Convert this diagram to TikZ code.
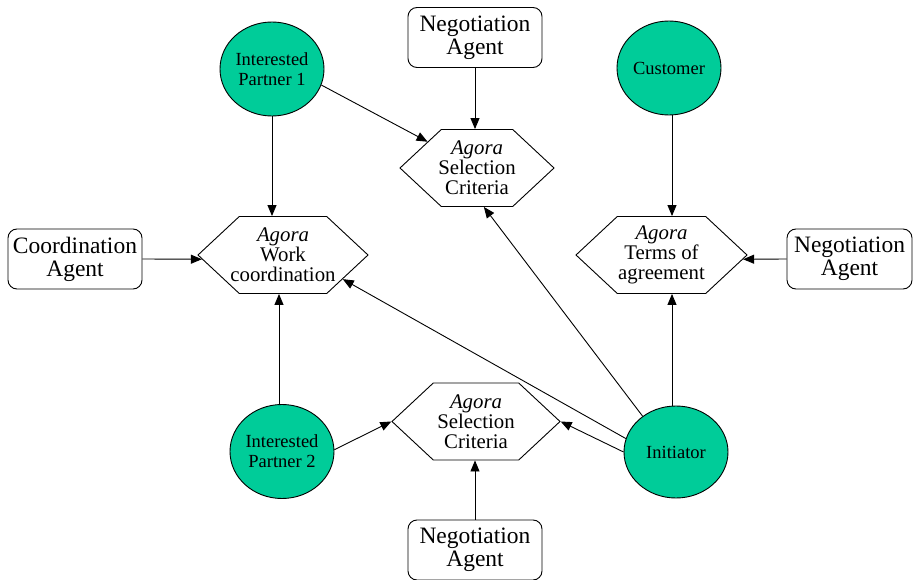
\documentclass[tikz,border=0pt]{standalone}
\usepackage{fontspec}
\setmainfont{Liberation Serif}
\usetikzlibrary{shapes.geometric,shapes.symbols,arrows.meta}
\definecolor{partnerfill}{RGB}{0,204,153}
% fixed-width centred line, so the hexagon size does not follow the text
\newcommand\hexline[1]{\makebox[66pt]{#1}}
\begin{document}
\begin{tikzpicture}[x=1pt,y=-1pt,
  arr/.style={draw=black, line width=0.9pt, -{Triangle[length=11pt,width=9pt]}},
  partner/.style={ellipse, draw=black, line width=0.9pt, fill=partnerfill,
    minimum width=104pt, minimum height=94pt, inner sep=0pt, align=center,
    font=\fontsize{18.5}{20}\selectfont},
  agentbox/.style={rectangle, rounded corners=9pt, draw=black, line width=0.9pt,
    fill=white, minimum width=134pt, minimum height=60pt, inner sep=0pt,
    align=center, font=\fontsize{23.5}{23}\selectfont},
  agora/.style={signal, signal to=east and west, signal pointer angle=86,
    draw=black, line width=0.9pt, fill=white, minimum height=77pt,
    inner sep=0pt, align=center, font=\fontsize{20.8}{20}\selectfont},
]
\useasboundingbox (0,0) rectangle (916,580);

% participants
\node[partner] (ip1) at (272,69) {Interested\\Partner 1};
\node[partner] (cust) at (669,68) {Customer};
\node[partner] (ip2) at (282,451.5) {Interested\\Partner 2};
\node[partner, minimum height=92pt] (init) at (676,452) {Initiator};

% agents
\node[agentbox] (nagtop) at (475,37.5) {Negotiation\\Agent};
\node[agentbox] (coord) at (75,259) {Coordination\\Agent};
\node[agentbox, minimum width=125pt] (nagright) at (849.5,259) {Negotiation\\Agent};
\node[agentbox] (nagbot) at (475,550) {Negotiation\\Agent};

% agoras
\node[agora, minimum width=154pt] (selup) at (477,168)
  {\hexline{\textit{Agora}}\\\hexline{Selection}\\\hexline{Criteria}};
\node[agora, minimum width=170pt] (work) at (283,255)
  {\hexline{\textit{Agora}}\\\hexline{Work}\\\hexline{coordination}};
\node[agora, minimum width=171pt] (terms) at (661.5,255)
  {\hexline{\textit{Agora}}\\\hexline{Terms of}\\\hexline{agreement}};
\node[agora, minimum width=168pt] (seldown) at (476,421.5)
  {\hexline{\textit{Agora}}\\\hexline{Selection}\\\hexline{Criteria}};

% vertical guide lines
\coordinate (vcust) at (672,0);
\coordinate (vip2) at (279,0);

% connectors
\draw[arr] (ip1.south) -- (ip1.south |- work.north);
\draw[arr] (ip1.-18) -- (selup.152);
\draw[arr] (nagtop.south) -- (nagtop.south |- selup.north);
\draw[arr] (cust.south -| vcust) -- (vcust |- terms.north);
\draw[arr] (coord.east) -- (work.183);
\draw[arr] (nagright.west) -- (terms.-3);
\draw[arr] (init.133) -- (selup.-80);
\draw[arr] (init.165) -- (work.-22);
\draw[arr] (init.north -| vcust) -- (vcust |- terms.south);
\draw[arr] (init.180) -- (seldown.east);
\draw[arr] (ip2.north -| vip2) -- (vip2 |- work.south);
\draw[arr] (ip2.2) -- (seldown.west);
\draw[arr] (nagbot.north) -- (nagbot.north |- seldown.south);
\end{tikzpicture}
\end{document}
